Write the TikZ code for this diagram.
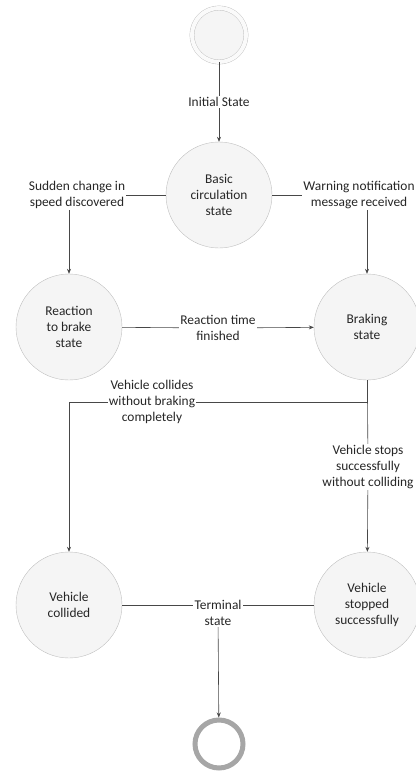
\documentclass[tikz,border=0pt]{standalone}
\usepackage{fontspec}
\setmainfont{Carlito}
\usetikzlibrary{positioning,arrows.meta}

\begin{document}
\begin{tikzpicture}[x=1pt, y=-1pt, >={Stealth[length=5pt,width=4pt]},
                    statenode/.style={circle, draw=black!25, fill=black!4, minimum size=106pt, align=center, text=black!85},
                    startnode/.style={circle, draw=black!25, fill=black!4, minimum size=54pt, double=black!2, double distance=4pt},
                    endnode/.style={circle, draw=black!35, line width=5pt, fill=white, minimum size=48pt},
                    edgelabel/.style={fill=white, inner sep=1.2pt, align=center, text=black!85},
                    every node/.append style={font=\fontsize{13.4}{16}\selectfont},]
    \useasboundingbox (0,0) rectangle (415,771);
    % nodes
    \node[startnode]      (start)     at (219,35)      {};
    \node[edgelabel]      (lblinit)   at (219,102)     {Initial State};
    \node[statenode]      (basic)     at (219,195)     {Basic\\circulation\\state};
    \node[edgelabel]      (sudden)    at (77,195)      {Sudden change in\\speed discovered};
    \node[edgelabel]      (warning)   at (359,195)     {Warning notification\\message received};
    \node[statenode]      (reaction)  at (69,327)      {Reaction\\to brake\\state};
    \node[statenode]      (braking)   at (367,327)     {Braking\\state};
    \node[edgelabel]      (lblreact)  at (218,328)     {Reaction time\\finished};
    \node[edgelabel]      (lblcollide) at (152,402)    {Vehicle collides\\without braking\\completely};
    \node[edgelabel]      (lblstops)  at (368,467)     {Vehicle stops\\successfully\\without colliding};
    \node[statenode]      (collided)  at (69,605)      {Vehicle\\collided};
    \node[statenode]      (stopped)   at (367,605)     {Vehicle\\stopped\\successfully};
    \node[edgelabel]      (lblterm)   at (218,613)     {Terminal\\state};
    \node[endnode]        (final)     at (219,744)     {};
    % lines
    \begin{scope}[draw=black!72, line width=0.6pt]
    \draw[->] (start) -- (lblinit) -- (basic);
    \draw (basic) -- (sudden.east);
    \draw[->] (sudden.south -| reaction.north) -- (reaction.north);
    \draw (basic) -- (warning.west);
    \draw[->] (warning.south -| braking.north) -- (braking.north);
    \draw[->] (reaction) -- (lblreact) -- (braking);
    \draw[->] (braking) |- (lblcollide) -| (collided);
    \draw[->] (braking) -- (lblstops) -- (stopped);
    \draw (collided) -- (collided -| lblterm.west);
    \draw (stopped) -- (stopped -| lblterm.east);
    \draw[->] (lblterm) -- (final);
    \end{scope}
\end{tikzpicture}
\end{document}
